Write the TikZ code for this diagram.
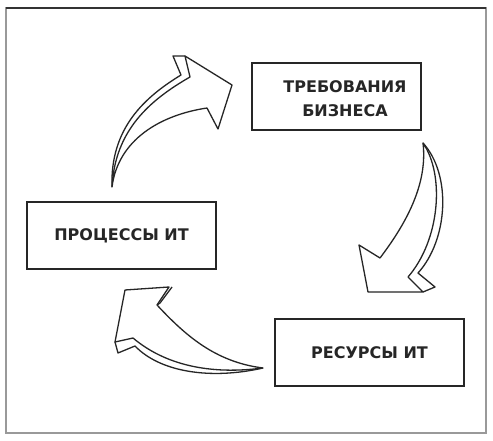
\documentclass[tikz,border=0pt]{standalone}
\usepackage{fontspec}
\setmainfont{DejaVu Sans}
\begin{document}
\begin{tikzpicture}[x=1pt,y=-1pt,
  lbl/.style={font=\bfseries\fontsize{16}{24}\selectfont, align=center, text=black!85},
  box/.style={draw=black!85, line width=1.8pt, inner sep=0pt, lbl},
  arr/.style={draw=black!85, line width=1.3pt, line join=round, fill=white},
  arrback/.style={draw=black!85, line width=1.3pt, line join=round}]
\useasboundingbox (0,0) rectangle (493,441);
\fill[white] (0,0) rectangle (493,441);
\draw[gray!80, line width=1.3pt] (6,8) rectangle (486,433);
\draw[black!80, line width=1.3pt] (6,8) -- (486,8);

% boxes
\node[box, minimum width=169pt, minimum height=67pt] (req) at (336.5,96.5) {};
\node[lbl] (reqt) at (345,99) {ТРЕБОВАНИЯ\\БИЗНЕСА};
\node[box, minimum width=189pt, minimum height=67pt] (proc) at (121.5,235.5) {ПРОЦЕССЫ ИТ};
\node[box, minimum width=189pt, minimum height=67pt] (res) at (369.5,352.5) {РЕСУРСЫ ИТ};

% top-left arrow
\draw[arrback] (112,187) .. controls (110,128) and (145,97) .. (181,75) -- (173,56) -- (185,56);
\draw[arr] (112,187) .. controls (115,130) and (150,100) .. (190,77) -- (185,56) -- (232,85) -- (218,129) -- (207,108)
  .. controls (160,115) and (118,140) .. cycle;

% right arrow
\draw[arrback] (423,143) .. controls (452,175) and (448,240) .. (418,273) -- (435,287) -- (423,292);
\draw[arr] (423,143) .. controls (445,175) and (440,240) .. (408,277) -- (423,292) -- (368,292) -- (359,245) -- (380,258)
  .. controls (405,225) and (428,185) .. cycle;

% bottom-left arrow
\draw[arrback] (263,368) .. controls (210,380) and (160,372) .. (135,346) -- (118,353) -- (115,342);
\draw[arrback] (172,287) -- (160,303) -- (157,305);
\draw[arr] (263,368) .. controls (210,375) and (165,365) .. (133,338) -- (115,342) -- (125,290) -- (169,287) -- (157,305)
  .. controls (185,335) and (215,362) .. cycle;
\end{tikzpicture}
\end{document}
